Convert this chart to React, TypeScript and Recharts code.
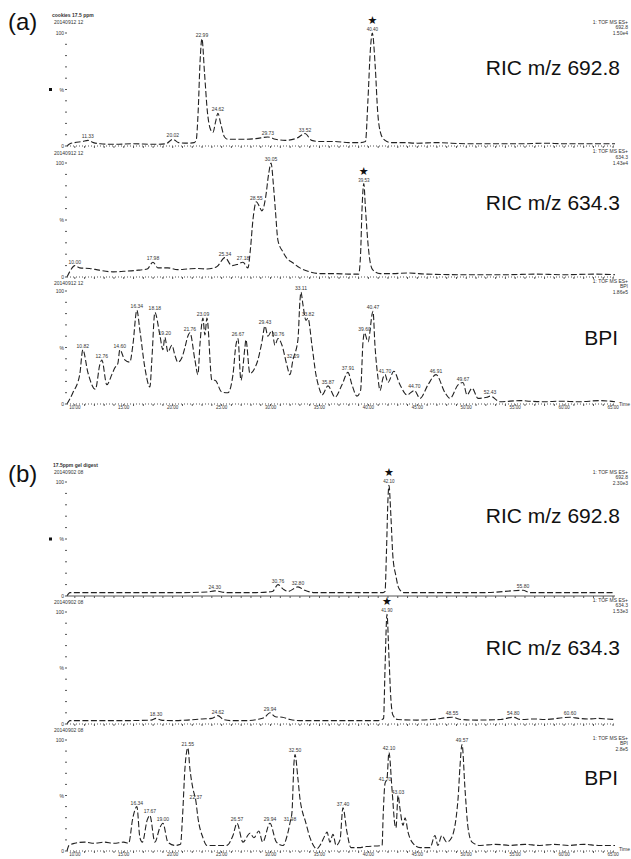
import React from "react"
import { LineChart, Line, XAxis, YAxis } from "recharts"

type Pt = [number, number]

// time axis (min)
const timeTicks = Array.from({ length: 56 }, (_, i) => 10 + i)
const timeLabels = [10, 15, 20, 25, 30, 35, 40, 45, 50, 55, 60, 65]
const yTicks = [0, 10, 20, 30, 40, 50, 60, 70, 80, 90, 100]

// (a) cookies 17.5 ppm
const a1Trace: Pt[] = [
  [9.2, 0], [9.5, 2], [10.0, 3], [10.8, 4], [11.33, 5], [11.9, 3], [12.6, 2], [14.0, 1.5], [16.0, 2],
  [18.0, 1.5], [19.3, 2], [20.02, 6], [20.6, 3], [21.6, 2.5], [22.2, 3], [22.4, 5], [22.6, 30],
  [22.8, 75], [22.99, 95], [23.25, 65], [23.55, 30], [23.85, 15], [24.11, 12], [24.4, 22], [24.62, 29],
  [24.9, 20], [25.3, 8], [25.64, 6], [26.5, 6], [27.5, 6], [28.5, 6.5], [29.73, 8], [30.5, 6], [31.5, 5],
  [32.7, 7], [33.52, 11], [34.2, 5], [35.0, 4], [36.5, 4], [38.0, 3], [39.2, 3], [39.7, 4], [39.95, 40],
  [40.2, 85], [40.4, 100], [40.7, 70], [40.95, 30], [41.3, 10], [41.7, 5], [42.3, 3], [43.5, 3],
  [45, 2.5], [47, 3], [50, 2], [53, 2], [56, 2], [58, 2.5], [60, 2], [63, 2], [65.2, 2],
]
const a1Peaks = [11.33, 20.02, 22.99, 24.62, 29.73, 33.52, 40.4]

const a2Trace: Pt[] = [
  [9.2, 0], [9.5, 5], [10.0, 10], [10.5, 8], [11.5, 7.5], [12.5, 6], [13.9, 4.5], [15.0, 5], [16.5, 6],
  [17.4, 7], [17.98, 13], [18.5, 8], [19.5, 8], [20.5, 6.5], [21.5, 7], [22.5, 7.5], [23.5, 7], [24.5, 9],
  [25.34, 17], [26.05, 10], [26.6, 11], [27.18, 13], [27.69, 8], [27.95, 25], [28.2, 50], [28.55, 66],
  [28.85, 62], [29.12, 58], [29.5, 70], [29.8, 90], [30.05, 100], [30.3, 80], [30.5, 58], [30.76, 32],
  [31.27, 22], [31.7, 16], [32.19, 13], [33.0, 8], [34.03, 4.5], [35.05, 3], [36.5, 3], [38.0, 2.5],
  [39.0, 2.5], [39.2, 20], [39.35, 60], [39.53, 82], [39.7, 60], [39.95, 30], [40.2, 12], [40.47, 6],
  [41.2, 3], [42.5, 3], [44, 3.5], [46, 2.5], [50, 2], [54, 2], [57, 2.5], [60, 2], [63, 2.5], [65.2, 2],
]
const a2Peaks = [10.0, 17.98, 25.34, 27.18, 28.55, 30.05, 39.53]

const a3Trace: Pt[] = [
  [9.2, 0], [9.8, 10], [10.5, 26], [10.82, 48], [11.33, 28], [12.1, 13], [12.56, 35], [12.76, 39],
  [13.27, 17], [13.78, 26], [14.09, 32], [14.4, 36], [14.6, 48], [15.11, 39], [15.62, 37], [15.93, 52],
  [16.34, 83], [16.65, 65], [17.16, 32], [17.67, 15], [17.87, 39], [18.18, 81], [18.69, 61], [19.0, 48],
  [19.2, 59], [19.51, 46], [19.92, 52], [20.23, 43], [20.53, 37], [20.94, 41], [21.25, 50], [21.55, 60],
  [21.76, 63], [22.27, 39], [22.58, 26], [22.78, 52], [23.09, 76], [23.29, 61], [23.5, 76], [24.01, 21],
  [24.32, 21], [25.03, 10.5], [25.64, 10], [26.16, 26], [26.46, 52], [26.67, 58], [26.97, 21],
  [27.38, 50], [27.48, 57], [27.89, 27], [28.4, 32], [28.71, 39], [29.12, 55], [29.43, 69], [29.73, 60],
  [30.14, 65], [30.45, 52], [30.76, 58], [31.17, 52], [31.68, 34], [31.98, 26], [32.29, 39], [32.8, 57],
  [33.01, 92], [33.11, 99], [33.31, 88], [33.62, 74], [33.82, 76], [34.23, 52], [34.64, 26], [35.05, 12],
  [35.26, 8], [35.87, 16], [36.59, 6], [37.3, 17], [37.91, 28], [38.32, 17], [38.83, 7], [39.2, 12],
  [39.45, 55], [39.6, 63], [39.96, 55], [40.47, 82], [40.67, 52], [40.98, 23], [41.19, 12], [41.49, 23],
  [41.7, 26], [42.0, 19], [42.6, 29], [43.23, 17], [43.95, 8], [44.7, 12], [45.28, 5], [46.09, 17],
  [46.91, 26], [47.83, 10], [48.34, 5], [49.16, 17], [49.67, 19], [50.08, 8], [50.59, 14], [51.21, 5],
  [52.13, 6], [52.43, 7], [53.46, 2], [55.5, 3], [56.52, 2.5], [58, 2], [59.59, 2.5], [61.5, 2],
  [63.68, 3], [65.2, 2],
]
const a3Peaks = [
  10.82, 12.76, 14.6, 16.34, 18.18, 19.2, 21.76, 23.09, 26.67, 29.43, 30.76,
  32.29, 33.11, 33.82, 35.87, 37.91, 39.6, 40.47, 41.7, 44.7, 46.91, 49.67, 52.43,
]

// (b) 17.5ppm gel digest
const b1Trace: Pt[] = [
  [9.2, 0], [9.5, 3], [10.5, 3], [13, 3], [16, 3], [19, 3], [21, 3], [23.5, 3.5], [24.3, 4.5], [25.5, 3],
  [27, 3], [28.5, 3], [30.2, 4], [30.76, 10], [31.3, 6], [31.8, 4], [32.8, 8], [33.5, 5], [34.5, 3],
  [36, 3], [38, 3], [40, 3], [41.5, 3], [41.7, 4], [41.85, 40], [42.0, 85], [42.1, 97], [42.3, 70],
  [42.5, 35], [42.8, 18], [43.1, 7], [43.6, 3], [45, 3], [48, 3], [52, 3], [55.8, 5], [56.5, 3], [60, 3],
  [63, 3], [65.2, 3],
]
const b1Peaks = [24.3, 30.76, 32.8, 42.1, 55.8]

const b2Trace: Pt[] = [
  [9.2, 0], [9.5, 3], [11, 3], [13, 3], [15, 3], [17.8, 3.5], [18.3, 5], [18.8, 3.5], [20, 3], [21.5, 3.5],
  [23, 4.5], [24.0, 5], [24.62, 7.5], [25.2, 4], [26, 3], [27.5, 3], [28.6, 4], [29.4, 6], [29.94, 10],
  [30.5, 6.5], [31.2, 6], [32.0, 4], [33, 3], [35, 3], [37, 3], [39, 3], [41, 3], [41.4, 4], [41.55, 5],
  [41.7, 50], [41.9, 98], [42.1, 60], [42.3, 22], [42.5, 8], [43.0, 4], [45, 3.5], [46.5, 4], [48.55, 6],
  [49.5, 4], [51, 3.5], [53.5, 4], [54.8, 6], [55.6, 4], [57, 4.5], [58, 4], [60.6, 6], [61.5, 5],
  [62.5, 4.5], [63.5, 5], [64.3, 4.5], [65.2, 4],
]
const b2Peaks = [18.3, 24.62, 29.94, 41.9, 48.55, 54.8, 60.6]

const b3Trace: Pt[] = [
  [9.2, 0], [9.4, 5], [10, 7], [11, 8], [12, 7], [13, 8], [14, 7], [15, 8], [15.5, 7], [15.93, 30],
  [16.34, 40], [16.65, 12], [16.9, 8], [17.4, 28], [17.67, 32], [18.18, 8], [18.69, 21], [19.0, 25],
  [19.51, 8], [20.23, 5], [20.8, 6], [21.0, 30], [21.25, 74], [21.55, 93], [21.76, 74], [22.07, 56],
  [22.37, 45], [22.58, 30], [23.09, 12], [23.5, 5], [24.5, 5], [25.5, 5], [26.16, 14], [26.57, 25],
  [27.18, 8], [27.9, 16], [28.3, 12], [28.8, 18], [29.2, 8], [29.94, 25], [30.6, 8], [31.27, 5],
  [31.7, 14], [31.98, 25], [32.19, 35], [32.4, 80], [32.5, 87], [32.8, 65], [33.01, 47], [33.3, 34],
  [33.52, 28], [34.03, 12], [34.74, 2], [35.05, 5], [35.56, 14], [35.77, 17], [36.07, 8], [36.38, 15],
  [36.7, 5], [37.1, 10], [37.4, 39], [37.81, 17], [38.22, 3], [39, 3], [39.8, 4], [41.4, 5], [41.5, 30],
  [41.7, 61], [41.9, 65], [42.1, 89], [42.41, 56], [42.72, 23], [42.82, 21], [43.03, 50], [43.23, 38],
  [43.54, 23], [43.75, 30], [44.05, 17], [44.46, 8], [45.28, 3], [46.3, 3], [46.8, 14], [47.1, 5],
  [47.5, 14], [48.0, 8], [48.5, 12], [49.16, 47], [49.35, 75], [49.57, 96], [49.87, 56], [50.18, 21],
  [50.59, 8], [51.4, 5], [53, 6], [54.5, 5], [56, 6], [57.5, 5], [59, 6], [60.5, 5], [62, 6], [63.5, 5],
  [65.2, 5],
]
const b3Peaks = [16.34, 17.67, 19.0, 21.55, 22.37, 26.57, 29.94, 31.98, 32.5, 37.4, 41.7, 42.1, 43.03, 49.57]

const FONT = "'Liberation Sans', Arial, sans-serif"

const YTick = (props: any) => {
  const { x, y, payload, square } = props
  const v = payload.value
  const txt = v === 100 ? "100" : v === 50 ? "%" : v === 0 ? "0" : ""
  return (
    <g>
      {txt && (
        <text x={x} y={y + 2} textAnchor="end" fontSize={5} fill="#333" fontFamily={FONT}>
          {txt}
        </text>
      )}
      {square && v === 50 && <rect x={49} y={y - 1.5} width={3} height={3} fill="#111" />}
    </g>
  )
}

interface PanelProps {
  trace: Pt[]
  peaks: number[]
  star?: number
  top: number
  bottom: number
  timeAxis?: boolean
  solidAxis?: boolean
  square?: boolean
}

function Panel({ trace, peaks, star, top, bottom, timeAxis, solidAxis, square }: PanelProps) {
  const data = trace.map(([t, v]) => ({ t, v }))
  const mt = 24
  const xh = 8
  const h = bottom - top + mt + xh

  const renderDot = (p: any) => {
    const { cx, cy, payload, index } = p
    if (!payload || !peaks.includes(payload.t)) return <g key={index} />
    const isStar = star === payload.t
    return (
      <g key={index}>
        {isStar && (
          <text x={cx} y={cy - 9} textAnchor="middle" fontSize={11} fill="#111" fontFamily="DejaVu Sans">
            ★
          </text>
        )}
        <text x={cx} y={cy - 2} textAnchor="middle" fontSize={isStar ? 4.5 : 5} fill="#333" fontFamily={FONT}>
          {payload.t.toFixed(2)}
        </text>
      </g>
    )
  }

  return (
    <div style={{ position: "absolute", left: 0, top: top - mt }}>
      <LineChart width={631} height={h} data={data} margin={{ top: mt, right: 16, bottom: 0, left: 47 }}>
        <XAxis
          type="number"
          dataKey="t"
          domain={[9.2, 65.2]}
          ticks={timeTicks}
          interval={0}
          height={xh}
          tickSize={2}
          tickMargin={0}
          axisLine={{ stroke: "#555", strokeDasharray: solidAxis ? undefined : "1 2" }}
          tickLine={{ stroke: "#555" }}
          tick={{ fontSize: 4.5, fill: "#333", fontFamily: FONT }}
          tickFormatter={(v) => (timeAxis && timeLabels.includes(v) ? v.toFixed(2) : "")}
        />
        <YAxis
          type="number"
          domain={[0, 100]}
          ticks={yTicks}
          interval={0}
          width={20}
          axisLine={false}
          tickSize={2}
          tickMargin={1}
          tickLine={{ stroke: "#555" }}
          tick={<YTick square={square} />}
        />
        <Line
          dataKey="v"
          type="monotone"
          stroke="#222"
          strokeWidth={1.1}
          strokeDasharray="6 2.5"
          dot={renderDot}
          activeDot={false}
          isAnimationActive={false}
        />
      </LineChart>
    </div>
  )
}

const small = { fontSize: 5, fill: "#333", fontFamily: FONT }
const big = { fontSize: 21, fill: "#111", fontFamily: FONT }

export default function App() {
  return (
    <div style={{ position: "absolute", left: 0, top: 0, width: 631, height: 859, overflow: "hidden", background: "#fff" }}>
      <Panel trace={a1Trace} peaks={a1Peaks} star={40.4} top={33} bottom={146} square />
      <Panel trace={a2Trace} peaks={a2Peaks} star={39.53} top={163} bottom={277} />
      <Panel trace={a3Trace} peaks={a3Peaks} top={291} bottom={404} timeAxis />
      <Panel trace={b1Trace} peaks={b1Peaks} star={42.1} top={482} bottom={596} solidAxis square />
      <Panel trace={b2Trace} peaks={b2Peaks} star={41.9} top={612} bottom={724} />
      <Panel trace={b3Trace} peaks={b3Peaks} top={740} bottom={851} timeAxis />

      <svg width={631} height={859} style={{ position: "absolute", left: 0, top: 0, pointerEvents: "none" }}>
        <text x={8} y={30} fontSize={24} fill="#111" fontFamily={FONT}>(a)</text>
        <text x={8} y={482} fontSize={24} fill="#111" fontFamily={FONT}>(b)</text>

        <text x={52} y={17} {...small} fontWeight="bold">cookies 17.5 ppm</text>
        <text x={54} y={24} {...small}>20140912 12</text>
        <text x={54} y={155} {...small}>20140912 12</text>
        <text x={54} y={285} {...small}>20140912 12</text>
        <text x={53} y={467} {...small} fontWeight="bold">17.5ppm gel digest</text>
        <text x={54} y={474} {...small}>20140902 08</text>
        <text x={54} y={604} {...small}>20140902 08</text>
        <text x={54} y={732} {...small}>20140902 08</text>

        <text textAnchor="end" {...small}>
          <tspan x={628} y={24}>1: TOF MS ES+</tspan>
          <tspan x={628} y={29}>692.8</tspan>
          <tspan x={628} y={35}>1.50e4</tspan>
        </text>
        <text textAnchor="end" {...small}>
          <tspan x={628} y={153}>1: TOF MS ES+</tspan>
          <tspan x={628} y={159}>634.3</tspan>
          <tspan x={628} y={165}>1.43e4</tspan>
        </text>
        <text textAnchor="end" {...small}>
          <tspan x={628} y={283}>1: TOF MS ES+</tspan>
          <tspan x={628} y={288}>BPI</tspan>
          <tspan x={628} y={294}>1.86e5</tspan>
        </text>
        <text textAnchor="end" {...small}>
          <tspan x={628} y={474}>1: TOF MS ES+</tspan>
          <tspan x={628} y={479}>692.8</tspan>
          <tspan x={628} y={485}>2.30e3</tspan>
        </text>
        <text textAnchor="end" {...small}>
          <tspan x={628} y={602}>1: TOF MS ES+</tspan>
          <tspan x={628} y={607}>634.3</tspan>
          <tspan x={628} y={613}>1.53e3</tspan>
        </text>
        <text textAnchor="end" {...small}>
          <tspan x={628} y={740}>1: TOF MS ES+</tspan>
          <tspan x={628} y={745}>BPI</tspan>
          <tspan x={628} y={751}>2.8e5</tspan>
        </text>

        <text x={620} y={75} textAnchor="end" {...big}>RIC m/z 692.8</text>
        <text x={620} y={210} textAnchor="end" {...big}>RIC m/z 634.3</text>
        <text x={618} y={345} textAnchor="end" {...big}>BPI</text>
        <text x={620} y={523} textAnchor="end" {...big}>RIC m/z 692.8</text>
        <text x={620} y={655} textAnchor="end" {...big}>RIC m/z 634.3</text>
        <text x={618} y={785} textAnchor="end" {...big}>BPI</text>

        <text x={619} y={406} {...small}>Time</text>
        <text x={619} y={851} {...small}>Time</text>
      </svg>
    </div>
  )
}
